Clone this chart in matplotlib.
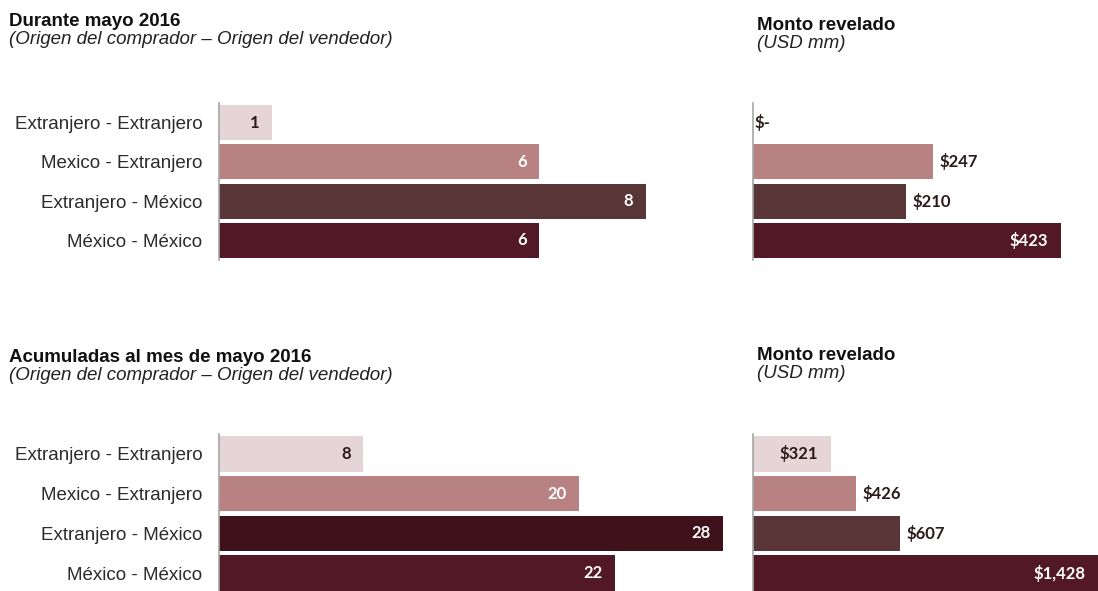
import matplotlib
matplotlib.use("Agg")
import matplotlib.pyplot as plt

# data
categories = ["Extranjero - Extranjero", "Mexico - Extranjero", "Extranjero - México", "México - México"]
deals_may = [1, 6, 8, 6]
amount_may = [0, 247, 210, 423]
deals_ytd = [8, 20, 28, 22]
amount_ytd = [321, 426, 607, 1428]

colors_top = ["#e6d5d7", "#b88283", "#583536", "#521826"]
colors_bottom = ["#e6d5d7", "#b88283", "#3e111b", "#521826"]

W, H = 1098, 591
label_font = "Liberation Sans"
value_font = "Lato"
dark_text = "#2a1a1a"


def px_axes(fig, x0, y0, x1, y1):
    # pixel box (top-left origin) -> figure axes
    return fig.add_axes([x0 / W, 1 - y1 / H, (x1 - x0) / W, (y1 - y0) / H])


def bars(ax, values, colors, xmax, labels=None):
    pos = range(len(values))
    ax.barh(pos, values, height=0.89, color=colors)
    ax.set_xlim(0, xmax)
    ax.set_ylim(3.5, -0.5)
    ax.set_xticks([])
    for s in ["top", "right", "bottom"]:
        ax.spines[s].set_visible(False)
    ax.spines["left"].set_color("#a6a6a6")
    ax.spines["left"].set_linewidth(1.2)
    if labels is None:
        ax.set_yticks([])
    else:
        ax.set_yticks(list(pos))
        ax.set_yticklabels(labels, fontsize=13.5, family=label_font, color="#2b2b2b")
        ax.tick_params(axis="y", length=0, pad=12)
    ax.patch.set_alpha(0)


def value_label(ax, v, i, text, inside, color):
    if inside:
        ax.annotate(text, (v, i), xytext=(-9, 0), textcoords="offset points",
                    ha="right", va="center", fontsize=12, family=value_font,
                    weight="bold", color=color)
    else:
        ax.annotate(text, (v, i), xytext=(5, 0), textcoords="offset points",
                    ha="left", va="center", fontsize=12, family=value_font,
                    weight="bold", color=color)


fig = plt.figure(figsize=(W / 100, H / 100), dpi=100)
fig.patch.set_facecolor("white")


def heading(x, y, title, sub):
    # y is the baseline of the bold heading, in pixels from the top
    fig.text(x / W, 1 - y / H, title, fontsize=13.5, weight="bold", family=label_font,
             color="#111111", va="baseline")
    fig.text(x / W, 1 - (y + 18) / H, sub, fontsize=13.5, style="italic", family=label_font,
             color="#222222", va="baseline")


heading(9, 26, "Durante mayo 2016", "(Origen del comprador – Origen del vendedor)")
heading(757, 30, "Monto revelado", "(USD mm)")
heading(9, 362, "Acumuladas al mes de mayo 2016", "(Origen del comprador – Origen del vendedor)")
heading(757, 360, "Monto revelado", "(USD mm)")

# top left: number of deals in May
ax1 = px_axes(fig, 219, 103, 699, 260)
bars(ax1, deals_may, colors_top, 9, categories)
for i, v in enumerate(deals_may):
    value_label(ax1, v, i, str(v), True, dark_text if i == 0 else "white")

# top right: amount in May
ax2 = px_axes(fig, 753, 103, 1098, 260)
bars(ax2, amount_may, colors_top, 474)
for i, v in enumerate(amount_may):
    if v == 0:
        ax2.annotate("$-", (0, i), xytext=(1, 0), textcoords="offset points",
                     ha="left", va="center", fontsize=12, family=value_font,
                     weight="bold", color=dark_text)
    elif i == 3:
        value_label(ax2, v, i, "${:,}".format(v), True, "white")
    else:
        value_label(ax2, v, i, "${:,}".format(v), False, dark_text)

# bottom left: accumulated deals
ax3 = px_axes(fig, 219, 434, 741, 593)
bars(ax3, deals_ytd, colors_bottom, 29, categories)
for i, v in enumerate(deals_ytd):
    value_label(ax3, v, i, str(v), True, dark_text if i == 0 else "white")

# bottom right: accumulated amount
ax4 = px_axes(fig, 753, 434, 1098, 593)
bars(ax4, amount_ytd, colors_top, 1428)
ytd_inside = [True, False, False, True]
ytd_color = [dark_text, dark_text, dark_text, "white"]
for i, v in enumerate(amount_ytd):
    value_label(ax4, v, i, "${:,}".format(v), ytd_inside[i], ytd_color[i])

fig.savefig("out.png", dpi=100)
